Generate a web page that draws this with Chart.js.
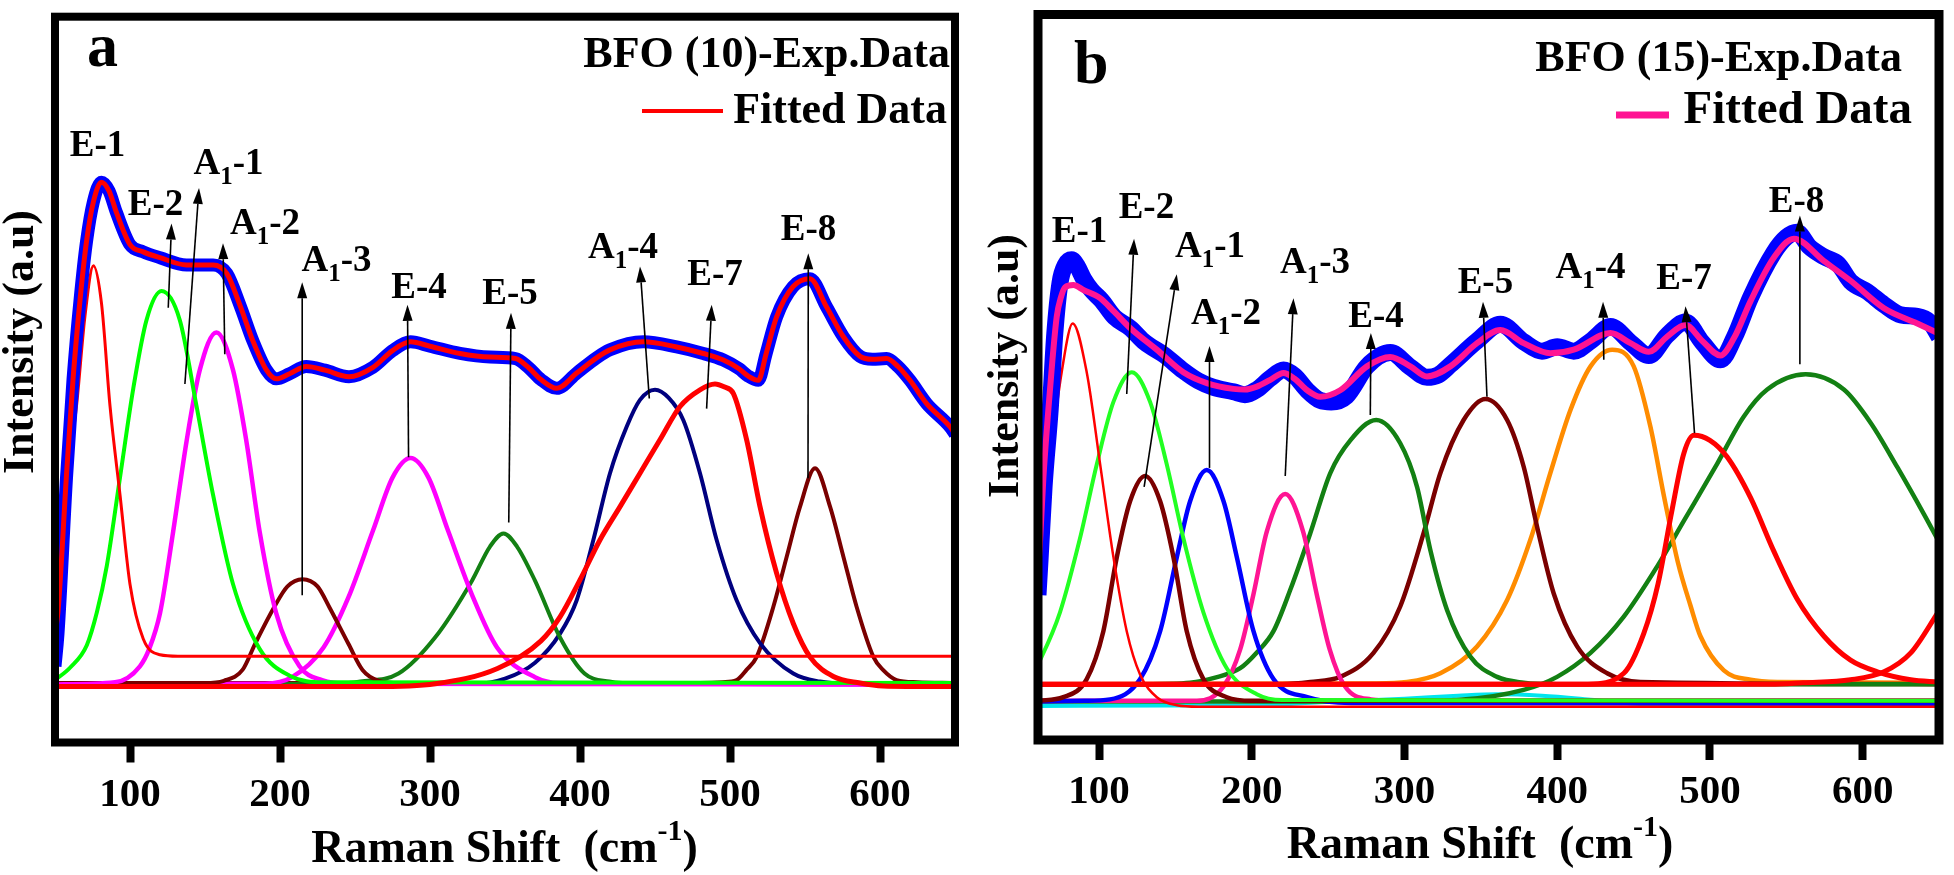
<!DOCTYPE html>
<html>
<head>
<meta charset="utf-8">
<script src="https://cdn.jsdelivr.net/npm/chart.js@4.4.1/dist/chart.umd.min.js"></script>
<style>
  html, body { margin: 0; padding: 0; background: #fff; }
  #wrap { position: relative; width: 1954px; height: 875px; }
  canvas { position: absolute; top: 0; }
  #chartA { left: 0; }
  #chartB { left: 977px; }
</style>
</head>
<body>
<div id="wrap">
  <canvas id="chartA" width="977" height="875"></canvas>
  <canvas id="chartB" width="977" height="875"></canvas>
</div>
<script>
// ---------- data (Raman shift cm-1, intensity a.u. 0-100) ----------
const xTicks = [100, 200, 300, 400, 500, 600];
const peakNames = ['E-1', 'E-2', 'A1-1', 'A1-2', 'A1-3', 'E-4', 'E-5', 'A1-4', 'E-7', 'E-8'];

// panel a : BFO (10)
const expA = [[50,10.5],[52,15],[57.7,36.6],[62,50],[66.8,61.2],[71,69],[75.6,74.5],[81,77.2],[86,76],[91,73],[100,68.6],[108.8,67.6],[120,66.8],[137.7,65.8],[155.5,65.8],[164.6,64.6],[173.4,60.2],[182,55.3],[191,51.3],[197.5,50.1],[206.4,50.8],[217.5,51.8],[230,51.3],[246,50.4],[262,51.7],[275,54],[287,55.2],[300,54.6],[320,53.6],[340,53.1],[357,52.9],[366,51.6],[374,50],[384.5,48.8],[397.8,50.9],[411,53],[420,54.1],[442.2,55.2],[464.4,54.5],[482.2,53.6],[495.6,52.7],[506,51.5],[512,50.5],[518.9,49.9],[524,53.5],[531,58.6],[542,62.8],[553.3,63.9],[564.4,60],[575.6,55.9],[586.7,53.2],[595,52.8],[604.4,52.9],[612,51.8],[620,49.9],[631.1,46.7],[646.7,43.5],[650,42.5]];
const fitA = [[50,15],[52,18],[57.7,37],[62,50],[66.8,61.2],[71,69],[75.6,74.5],[81,77.2],[86,76],[91,73],[100,68.6],[108.8,67.6],[120,66.8],[137.7,65.8],[155.5,65.8],[164.6,64.6],[173.4,60.2],[182,55.3],[191,51.3],[197.5,50.1],[206.4,50.8],[217.5,51.8],[230,51.3],[246,50.4],[262,51.7],[275,54],[287,55.2],[300,54.6],[320,53.6],[340,53.1],[357,52.9],[366,51.6],[374,50],[384.5,48.8],[397.8,50.9],[411,53],[420,54.1],[442.2,55.2],[464.4,54.5],[482.2,53.6],[495.6,52.7],[506,51.5],[512,50.5],[518.9,49.9],[524,53.5],[531,58.6],[542,62.8],[553.3,63.9],[564.4,60],[575.6,55.9],[586.7,53.2],[595,52.8],[604.4,52.9],[612,51.8],[620,49.9],[631.1,46.7],[646.7,43.5],[650,42.5]];
const a_E1 = [[50,21],[57,35],[64.3,46.3],[70,58.8],[75.6,65.7],[81,60.5],[86.7,46.3],[93.4,34],[100,21.8],[108.8,14.3],[120,12.1],[132,11.9],[650,11.9]];
const a_E2 = [[50,8.6],[60,10.3],[71.2,13.4],[78,18],[84.5,24.3],[93.4,36.6],[102.2,48.8],[111,58.2],[121,62.2],[133.2,58.2],[144.3,46.4],[155.4,34.1],[168.7,21.8],[186.4,12.9],[206.4,9.2],[229,8.3],[650,8.2]];
const a_A11 = [[50,8],[90,8.3],[106.6,10.5],[113,13],[120,17.8],[128.8,29.1],[137.7,41.5],[146.5,51.3],[157.6,56.5],[168.7,51.3],[177.6,41.5],[186.4,29.1],[197.5,17.8],[213,10.5],[228,8.6],[245,8.1],[650,8]];
const a_A13 = [[50,8.2],[150,8.2],[162.5,8.5],[175,10],[183.4,13.6],[196,18.6],[205,21.5],[215,22.5],[225,21.5],[233,18.6],[245.6,13.6],[255,10],[266,8.5],[280,8.2],[650,8.2]];
const a_E4 = [[50,8],[190,8.1],[208,9],[229,13.1],[245.6,20],[262,29.2],[275,36.5],[287,39.2],[299,36.5],[312,29.2],[328.7,20],[344.7,13.1],[370,9],[386,8.2],[650,8]];
const a_E5 = [[50,8],[240,8.1],[253.6,8.4],[279,9.5],[303.5,14.5],[328,22.3],[340,27],[349,28.8],[358,27],[370,22.3],[386.6,14.5],[403,9.5],[419.5,8.4],[440,8.1],[650,8]];
const a_A14 = [[50,8],[330,8.1],[350,8.8],[370,11],[386.7,15],[397.8,19.6],[408.9,27.9],[420,37.1],[431.1,43.5],[440,47.2],[450,48.6],[459,47.5],[468.9,44.4],[480,37.1],[491.1,27.9],[504.4,19.6],[520,13.7],[542.2,9.5],[560,8.4],[580,8.1],[650,8]];
const a_E7 = [[50,7.7],[262,7.7],[303.5,8.1],[345,10.2],[374,14],[386.7,17.3],[400,22.4],[413.3,27.9],[426.7,32.5],[440,37.1],[453.3,41.7],[466.7,46.3],[480,48.6],[490,49.4],[496,49],[502.2,48.1],[511.1,41.7],[520,32.5],[531.1,23.3],[542.2,16.4],[553.3,11.8],[568.9,9.1],[586.7,8.2],[602,7.8],[650,7.7]];
const a_E8 = [[50,8.2],[480,8.2],[495,8.3],[504.4,8.6],[511,10],[517.8,11.8],[528.9,18.7],[537.8,25.6],[546.7,32.5],[556.7,37.8],[566.7,32.5],[575.6,25.6],[584.4,18.7],[595.6,11.8],[602,10],[611.1,8.6],[625,8.3],[650,8.2]];

// panel b : BFO (15)
const expB = [[60,20],[61.3,24.7],[64,35],[68,45.6],[71,56],[74.4,63],[78,65.5],[82,66.2],[86,65.2],[90,63.5],[95,62],[101.6,60.6],[110,58.3],[120.3,56.8],[130,54.8],[142.4,53.1],[155.2,50.9],[165,49.5],[175,48.6],[188,48],[195.5,47.6],[203.3,48.3],[211.8,49.8],[220.8,51],[228,50.2],[236.3,48.2],[244.8,46.8],[252,46.6],[262,47.4],[275.4,51.5],[290.7,53.4],[303.8,51.4],[314.7,50],[322,50.3],[330,51.7],[347.5,55],[362.8,57.3],[378,54.9],[390,53.6],[400,54.2],[410.8,53.6],[422,55],[434.9,57],[448,54.8],[460,53],[472,55.8],[484,57.6],[495,54.8],[506.9,52.4],[516,55.5],[526.6,61],[541.9,67.2],[550,69.3],[557,70],[565,68],[574.7,66.6],[584,65.6],[592.1,63.2],[603,61.8],[614,60],[625,58.6],[635.8,58.4],[644,57.6],[650,55.6]];
const fitB = [[60,23],[61.3,27.3],[63.5,36],[66.8,45.6],[69.5,52.5],[72.3,58.4],[75,61],[77.7,62.4],[83.2,62.7],[90,62],[100.7,60.9],[110,59],[120.3,56.8],[137.8,53.8],[155.2,50.7],[170.6,49.2],[188,48.4],[195.5,48.3],[203.3,48.7],[211.8,49.6],[220.8,50.6],[228,49.8],[236.3,48.2],[244.8,47.3],[257.9,48.2],[275.4,51.5],[290.7,52.8],[303.8,51.5],[314.7,50.1],[330,51.5],[347.5,54.7],[362.8,56.5],[378,54.7],[395.5,53.3],[410.8,53.8],[434.9,56.1],[448,54.7],[460,53.5],[472,55.6],[484,57.2],[495,55],[506.9,53],[516,55.5],[526.6,60.5],[541.9,66.5],[555,69.1],[574.7,66],[592.1,63.3],[614,59.5],[635.8,57.4],[650,56]];
const b_E1 = [[60,22],[63.5,30.3],[69,40.5],[75.5,50.7],[82.7,57.4],[91.9,50.7],[100.7,38],[109.4,25.2],[118.1,15],[126.9,9],[137.8,5.9],[150.9,4.8],[165,4.6],[650,4.6]];
const b_E2 = [[60,10.5],[61.3,11],[74.4,17.6],[87.5,27.8],[98.5,38],[109.4,46.6],[121.4,50.7],[133.4,46.6],[144.3,38],[155.2,27.8],[168.3,17.6],[183.6,9.9],[203.3,6.3],[220,5.5],[650,5.4]];
const b_A11 = [[60,5.4],[76.6,5.9],[91.9,8.4],[102.8,15],[111.6,25.2],[120.3,32.9],[130.1,36.4],[140,32.9],[148.7,25.2],[157.4,15],[168.3,8.4],[183.6,5.9],[200,5.4],[650,5.4]];
const b_A12 = [[60,5.3],[90,5.4],[107.2,5.6],[126.9,8.4],[140,15],[150.9,25.2],[159.6,32.9],[170.5,37.2],[181.5,32.9],[190.2,25.2],[201.1,15],[214.2,8.4],[236.3,5.9],[265,5.1],[650,5]];
const b_A13 = [[60,5.4],[164,5.4],[181.5,7.4],[192.4,12.5],[201.1,20.1],[209.9,28.8],[221.9,33.9],[233.5,28.8],[242.5,20.1],[251,12.5],[261,7.4],[278,5.6],[295,5.4],[650,5.4]];
const b_E4 = [[60,7.7],[130,7.7],[159.6,7.9],[176,8.6],[192.4,9.9],[203,12],[214.2,15],[225.2,20.7],[238.3,28.5],[251.4,36.8],[264.5,41.3],[281.5,44.1],[297.2,40.9],[308.2,34.9],[316.9,26.2],[327.9,17.9],[343.1,11.5],[360.6,8.7],[378,7.9],[400,7.7],[650,7.7]];
const b_E5 = [[60,7.7],[220,7.7],[238.3,8],[257.9,8.7],[279.7,12],[297.2,18.4],[312.5,28.5],[323.5,36.8],[338.7,44.1],[353,47],[367.2,44.1],[378,37.7],[386.8,29.4],[397.7,20.2],[413,12.9],[432.7,9.2],[454.5,8],[650,7.7]];
const b_A14 = [[60,7.7],[280,7.8],[301.6,8],[323.5,9.2],[347.5,12.9],[367.2,19.3],[382.4,27.6],[395.5,36.8],[408.7,45.5],[421.8,51.5],[436,53.8],[450.1,51.5],[461,43.2],[470,33.5],[479,24.5],[487.3,18.5],[493.8,14.3],[509.1,9.6],[526.6,8.3],[545,8],[650,7.9]];
const b_E7 = [[60,7.7],[420,7.7],[443.6,9.2],[456.7,14.7],[466,21.5],[475,31.5],[482.9,39.5],[489.5,42],[500,41.3],[511.3,39],[526.6,33.4],[541.9,26],[557.2,19.4],[574.7,14.3],[592.1,11],[609.6,9.4],[631.5,8.3],[650,8]];
const b_E9 = [[60,7.7],[540,7.7],[561,7.9],[592,8.3],[614,9.4],[631.5,12],[650,17.8]];
const b_E8 = [[60,5.3],[290.7,5.3],[334.4,5.5],[378,6.9],[399.9,8.7],[421.8,12],[443.6,17],[465.4,23.9],[482.9,30.2],[504.8,38.1],[522.2,44.6],[537.5,48.3],[562.7,50.4],[587.7,48.3],[605.3,43.7],[622.7,37.6],[640.2,31.1],[650,27.3]];
const b_bg = [[60,4.7],[200,4.8],[245,5.2],[300,5.7],[335,6.1],[360,6.3],[390,6.1],[420,5.6],[445,5.1],[480,4.8],[650,4.7]];

// label anchor [x, y] and arrow [tailX, tailY, tipX, tipY] per peak, in data units
const labelPosA = [[78.3,80.8],[117,72.7],[165.7,78.3],[190,70],[237.7,65],[292.7,61.2],[353.3,60.4],[428.7,66.8],[490,63],[552.3,69.2]];
const arrowsA = [null,[125.5,59.9,127.7,71.5],[136.6,49.4,146,76.4],[163.2,53.5,162,68.8],[214.8,20.3,214.8,63.4],[285.7,39.3,285,60.3],[352.5,30.3,354,59.2],[446.2,47.4,440,65.6],[484.4,46,487.8,60.3],[552,36.4,552.2,67.4]];
const labelPosB = [[87.2,68.6],[131,71.9],[172.6,66.6],[183.1,57.3],[241.4,64.4],[281.4,56.9],[353,61.6],[421.8,63.7],[483,62.1],[556.7,72.8]];
const arrowsB = [null,[118.1,47.7,122.9,69.1],[129.5,34.9,150.9,64.2],[172.3,37.5,172.3,54.3],[221.9,36.4,227.3,60.9],[277.6,44.8,278,56.1],[354,47.3,351.4,60.4],[430.5,52.4,430,60.4],[489.9,42.3,484,59.8],[558.9,51.8,558.9,72.3]];

// ---------- drawing ----------
const FONT = '"Liberation Serif", "Times New Roman", serif';
const f = (size) => 'bold ' + size + 'px ' + FONT;

function curve(pts, color, width) {
  return {
    data: pts.map(p => ({ x: p[0], y: p[1] })),
    borderColor: color, borderWidth: width, pointRadius: 0, fill: false,
    cubicInterpolationMode: 'monotone', clip: 0
  };
}

function peakText(ctx, name, cx, y) {
  let parts = [[name, 37, 0]];
  if (name.startsWith('A1')) parts = [['A', 37, 0], ['1', 25, 10], [name.slice(2), 37, 0]];
  let w = 0;
  parts.forEach(p => { ctx.font = f(p[1]); w += ctx.measureText(p[0]).width; });
  let x = cx - w / 2;
  parts.forEach(p => { ctx.font = f(p[1]); ctx.fillText(p[0], x, y + p[2]); x += ctx.measureText(p[0]).width; });
}

function arrow(ctx, x1, y1, x2, y2) {
  const ang = Math.atan2(y2 - y1, x2 - x1), L = 16, W = 5;
  const bx = x2 - L * Math.cos(ang), by = y2 - L * Math.sin(ang);
  ctx.lineWidth = 1.6;
  ctx.beginPath(); ctx.moveTo(x1, y1); ctx.lineTo(bx, by); ctx.stroke();
  ctx.beginPath();
  ctx.moveTo(x2, y2);
  ctx.lineTo(bx + W * Math.sin(ang), by - W * Math.cos(ang));
  ctx.lineTo(bx - W * Math.sin(ang), by + W * Math.cos(ang));
  ctx.closePath(); ctx.fill();
}

const decorations = {
  id: 'decorations',
  afterDatasetsDraw(chart, args, opts) {
    const P = opts.panel;
    if (!P) return;
    const ctx = chart.ctx, xs = chart.scales.x, ys = chart.scales.y, a = chart.chartArea;
    const px = v => xs.getPixelForValue(v), py = v => ys.getPixelForValue(v);
    ctx.save();
    ctx.fillStyle = '#000'; ctx.strokeStyle = '#000';
    ctx.textBaseline = 'alphabetic'; ctx.textAlign = 'left';

    P.arrows.forEach(r => { if (r) arrow(ctx, px(r[0]), py(r[1]), px(r[2]), py(r[3])); });
    peakNames.forEach((n, i) => peakText(ctx, n, px(P.labels[i][0]), py(P.labels[i][1])));

    // frame
    ctx.lineWidth = P.frameW;
    ctx.strokeRect(a.left, a.top, a.right - a.left, a.bottom - a.top);

    // legend
    const L = P.legend;
    ctx.textAlign = 'right';
    ctx.font = f(L.expSize); ctx.fillText(L.exp, L.expX, L.expY);
    ctx.font = f(L.fitSize); ctx.fillText(L.fit, L.fitX, L.fitY);
    ctx.strokeStyle = L.color; ctx.lineWidth = L.lineW;
    ctx.beginPath(); ctx.moveTo(L.x1, L.lineY); ctx.lineTo(L.x2, L.lineY); ctx.stroke();

    // panel letter
    ctx.textAlign = 'left';
    ctx.font = f(62); ctx.fillText(P.letter[0], P.letter[1], P.letter[2]);

    // x title with superscript
    const t1 = 'Raman Shift  (cm', t2 = '-1', t3 = ')';
    ctx.font = f(46); const w1 = ctx.measureText(t1).width, w3 = ctx.measureText(t3).width;
    ctx.font = f(30); const w2 = ctx.measureText(t2).width;
    let x = P.xTitle[0] - (w1 + w2 + w3) / 2;
    ctx.font = f(46); ctx.fillText(t1, x, P.xTitle[1]); x += w1;
    ctx.font = f(30); ctx.fillText(t2, x, P.xTitle[1] - 22); x += w2;
    ctx.font = f(46); ctx.fillText(t3, x, P.xTitle[1]);

    // y title
    ctx.translate(P.yTitle[0], P.yTitle[1]);
    ctx.rotate(-Math.PI / 2);
    ctx.textAlign = 'center';
    ctx.font = f(44); ctx.fillText('Intensity (a.u)', 0, 0);
    ctx.restore();
  }
};

function makeChart(id, P, datasets) {
  return new Chart(document.getElementById(id).getContext('2d'), {
    type: 'line',
    data: { datasets: datasets },
    plugins: [decorations],
    options: {
      responsive: false, animation: false, devicePixelRatio: 1,
      layout: { padding: { left: P.pad[0], top: P.pad[1], right: P.pad[2], bottom: 0 } },
      plugins: { legend: { display: false }, tooltip: { enabled: false }, decorations: { panel: P } },
      scales: {
        x: {
          type: 'linear', min: P.xMin, max: 650,
          afterBuildTicks: s => { s.ticks = xTicks.map(v => ({ value: v })); },
          afterFit: s => { s.height = P.axisH; },
          grid: { drawOnChartArea: false, drawTicks: true, tickLength: 20, tickWidth: 8, tickColor: '#000', lineWidth: 1 },
          border: { display: false },
          ticks: { color: '#000', padding: 8, maxRotation: 0, font: { family: FONT, size: 41, weight: 'bold' } }
        },
        y: { display: false, min: 0, max: 100 }
      }
    }
  });
}

const panelA = {
  xMin: 50, pad: [55, 16.7, 22], axisH: 132.5, frameW: 8,
  labels: labelPosA, arrows: arrowsA,
  letter: ['a', 87, 66],
  legend: { exp: 'BFO (10)-Exp.Data', expX: 950, expY: 67, expSize: 44, fit: 'Fitted Data', fitX: 947, fitY: 123, fitSize: 44,
            x1: 642, x2: 723, lineY: 111, lineW: 4, color: '#ff0000' },
  xTitle: [504.5, 862], yTitle: [33, 342]
};
const panelB = {
  xMin: 60, pad: [61, 14.5, 15], axisH: 135, frameW: 9,
  labels: labelPosB, arrows: arrowsB,
  letter: ['b', 97, 83],
  legend: { exp: 'BFO (15)-Exp.Data', expX: 925, expY: 71, expSize: 44, fit: 'Fitted Data', fitX: 935, fitY: 123, fitSize: 47,
            x1: 639, x2: 692, lineY: 115, lineW: 7, color: '#ff1493' },
  xTitle: [503, 858], yTitle: [41, 366]
};

window.onload = function () {
  makeChart('chartA', panelA, [
    curve(fitA, '#ff0000', 5),
    curve(expA, '#0000ff', 13),
    curve(a_E1, '#ff0000', 3),
    curve(a_E7, '#ff0000', 5),
    curve(a_E2, '#00ff00', 4),
    curve(a_A11, '#ff00ff', 4.5),
    curve(a_A13, '#7a0000', 4),
    curve(a_E4, '#ff00ff', 4.5),
    curve(a_E5, '#138013', 4),
    curve(a_A14, '#00007f', 4),
    curve(a_E8, '#7a0000', 4)
  ]);
  makeChart('chartB', panelB, [
    curve(fitB, '#ff1493', 6),
    curve(expB, '#0000ff', 17),
    curve(b_E1, '#ff0000', 2.5),
    curve(b_E7, '#ff0000', 5),
    curve(b_E9, '#ff0000', 5),
    curve(b_E2, '#22ff22', 4),
    curve(b_A11, '#7a0000', 4.5),
    curve(b_A12, '#0000ff', 4.5),
    curve(b_A13, '#ff1493', 4.5),
    curve(b_E4, '#138013', 4.5),
    curve(b_E5, '#7a0000', 4.5),
    curve(b_A14, '#ff8c00', 4.5),
    curve(b_E8, '#138013', 4.5),
    curve(b_bg, '#00e5ee', 4)
  ]);
};
</script>
</body>
</html>
